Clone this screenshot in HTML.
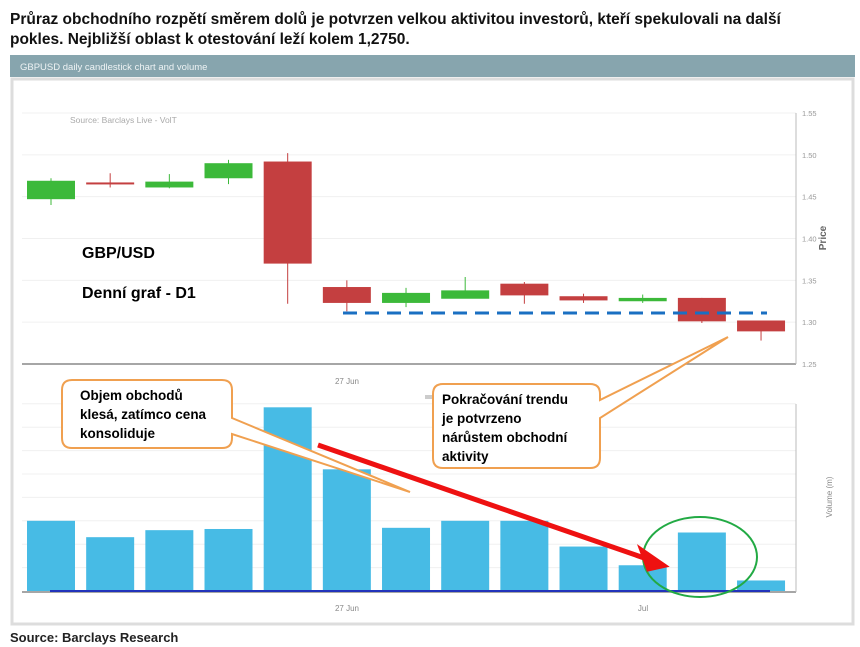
<!DOCTYPE html>
<html><head><meta charset="utf-8">
<style>
html,body{margin:0;padding:0;background:#fff;width:860px;height:647px;overflow:hidden;font-family:"Liberation Sans",sans-serif}
</style></head>
<body>
<svg width="860" height="647" viewBox="0 0 860 647" xmlns="http://www.w3.org/2000/svg" id="chart">
<text x="10" y="24" font-size="15.5" font-weight="bold" fill="#111">Průraz obchodního rozpětí směrem dolů je potvrzen velkou aktivitou investorů, kteří spekulovali na další</text>
<text x="10" y="44" font-size="15.5" font-weight="bold" fill="#111">pokles. Nejbližší oblast k otestování leží kolem 1,2750.</text>
<rect x="10" y="55" width="845" height="22" fill="#87a5ae"/>
<text x="20" y="70" font-size="9.5" fill="#eef3f4">GBPUSD daily candlestick chart and volume</text>
<rect x="12" y="79" width="841" height="545" fill="#fff" stroke="#ddd" stroke-width="3"/>
<g id="grid"></g>
<text x="70" y="123" font-size="8.5" fill="#aaa">Source: Barclays Live - VolT</text>
<line x1="22" y1="364" x2="796" y2="364" stroke="#888" stroke-width="1.5"/>
<line x1="796" y1="113" x2="796" y2="364" stroke="#bbb"/>
<text x="826" y="238" font-size="10" fill="#666" transform="rotate(-90 826 238)" text-anchor="middle" font-weight="bold">Price</text>
<g id="price-ticks"></g>
<g id="candles"></g>
<line x1="343" y1="313" x2="767" y2="313" stroke="#1a6fc2" stroke-width="3" stroke-dasharray="14,8"/>
<text x="82" y="258" font-size="16" font-weight="bold" fill="#000">GBP/USD</text>
<text x="82" y="298" font-size="16" font-weight="bold" fill="#000">Denní graf - D1</text>
<text x="347" y="384" font-size="8" fill="#888" text-anchor="middle">27 Jun</text>
<rect x="425" y="395" width="8" height="4" fill="#ccc"/>
<line x1="22" y1="592" x2="796" y2="592" stroke="#888" stroke-width="1.5"/>
<line x1="796" y1="404" x2="796" y2="592" stroke="#bbb"/>
<text x="832" y="497" font-size="8" fill="#888" transform="rotate(-90 832 497)" text-anchor="middle">Volume (m)</text>
<g id="bars"></g>
<line x1="50" y1="591" x2="770" y2="591" stroke="#2233bb" stroke-width="2"/>
<text x="347" y="611" font-size="8" fill="#888" text-anchor="middle">27 Jun</text>
<text x="643" y="611" font-size="8" fill="#888" text-anchor="middle">Jul</text>
<ellipse cx="700" cy="557" rx="57" ry="40" fill="none" stroke="#22aa44" stroke-width="2"/>
<g>
<line x1="318" y1="445" x2="650" y2="560" stroke="#ee1111" stroke-width="5"/>
<polygon points="666,566 640,548 648,570" fill="#ee1111" stroke="#ee1111" stroke-width="3"/>
</g>
<g>
<path d="M72,380 H222 Q232,380 232,390 V418 L410,492 L232,434 V438 Q232,448 222,448 H72 Q62,448 62,438 V390 Q62,380 72,380 Z" fill="#fff" stroke="#f0a050" stroke-width="2"/>
<text x="80" y="400" font-size="13.5" font-weight="bold" fill="#000">Objem obchodů</text>
<text x="80" y="419" font-size="13.5" font-weight="bold" fill="#000">klesá, zatímco cena</text>
<text x="80" y="438" font-size="13.5" font-weight="bold" fill="#000">konsoliduje</text>
</g>
<g>
<path d="M443,384 H590 Q600,384 600,394 V400 L728,337 L600,418 V458 Q600,468 590,468 H443 Q433,468 433,458 V394 Q433,384 443,384 Z" fill="#fff" stroke="#f0a050" stroke-width="2"/>
<text x="442" y="404" font-size="13.5" font-weight="bold" fill="#000">Pokračování trendu</text>
<text x="442" y="423" font-size="13.5" font-weight="bold" fill="#000">je potvrzeno</text>
<text x="442" y="442" font-size="13.5" font-weight="bold" fill="#000">nárůstem obchodní</text>
<text x="442" y="461" font-size="13.5" font-weight="bold" fill="#000">aktivity</text>
</g>
<text x="10" y="642" font-size="13" font-weight="bold" fill="#222">Source: Barclays Research</text>
</svg>
<script>
const opens  = [1.447,1.467,1.461,1.472,1.492,1.342,1.323,1.328,1.346,1.331,1.325,1.329,1.302];
const closes = [1.469,1.465,1.468,1.490,1.370,1.323,1.335,1.338,1.332,1.326,1.329,1.301,1.289];
const highs  = [1.472,1.478,1.477,1.494,1.502,1.350,1.341,1.354,1.348,1.334,1.333,1.329,1.302];
const lows   = [1.440,1.461,1.460,1.465,1.322,1.313,1.318,1.330,1.322,1.323,1.323,1.299,1.278];
const volumes = [3.0,2.3,2.6,2.65,7.85,5.2,2.7,3.0,3.0,1.9,1.1,2.5,0.45];
const priceTicks = ["1.55","1.50","1.45","1.40","1.35","1.30","1.25"];
const NS="http://www.w3.org/2000/svg";
const xC=i=>51+i*59.17;
const yP=v=>364-(v-1.25)*(251/0.30);
const yV=v=>591-v*23.4;
function mk(t,a,p){const e=document.createElementNS(NS,t);for(const k in a)e.setAttribute(k,a[k]);p.appendChild(e);return e;}
const grid=document.getElementById('grid');
for(let k=0;k<6;k++){const l=mk('line',{x1:22,x2:796,y1:yP(1.55-0.05*k),y2:yP(1.55-0.05*k),stroke:'#f0f0f0'},grid);

}
for(let k=1;k<=8;k++){const l=mk('line',{x1:22,x2:796,y1:yV(k),y2:yV(k),stroke:'#f0f0f0'},grid);

}
const pt=document.getElementById('price-ticks');
priceTicks.forEach(s=>{const t=mk('text',{x:802,y:yP(parseFloat(s))+3,'font-size':7.5,fill:'#999'},pt);t.textContent=s;

});
const cg=document.getElementById('candles');
opens.forEach((o,i)=>{const c=closes[i],up=c>=o,col=up?'#3cb93a':'#c43f40';
const g=mk('g',{},cg);


mk('line',{x1:xC(i),x2:xC(i),y1:yP(highs[i]),y2:yP(lows[i]),stroke:col,'stroke-width':1},g);
const t=yP(Math.max(o,c)),b=yP(Math.min(o,c));
mk('rect',{x:xC(i)-24,y:t,width:48,height:Math.max(2,b-t),fill:col},g);});
const bg=document.getElementById('bars');
volumes.forEach((v,i)=>{const r=mk('rect',{x:xC(i)-24,y:yV(v),width:48,height:591-yV(v),fill:'#47bbe5'},bg);

});
</script>
</body></html>
